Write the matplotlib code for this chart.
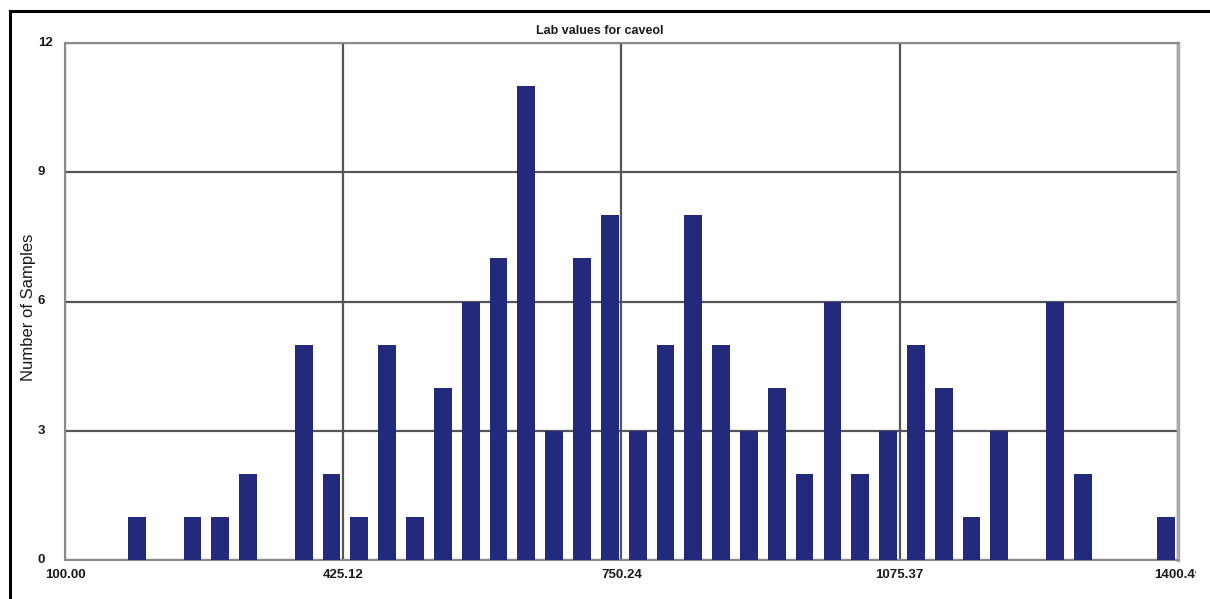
import numpy as np
import matplotlib
matplotlib.use("Agg")
import matplotlib.pyplot as plt
from matplotlib.transforms import Bbox
from matplotlib.lines import Line2D

# histogram of caveol lab values, 40 equal bins between the min and max
X_MIN, X_MAX = 100.00, 1400.49
counts = [0, 0, 1, 0, 1, 1, 2, 0, 5, 2,
          1, 5, 1, 4, 6, 7, 11, 3, 7, 8,
          3, 5, 8, 5, 3, 4, 2, 6, 2, 3,
          5, 4, 1, 3, 0, 6, 2, 0, 0, 1]
x_ticks = [100.00, 425.12, 750.24, 1075.37, 1400.49]
y_ticks = [0, 3, 6, 9, 12]

W, H = 1210, 599
fig = plt.figure(figsize=(W / 100, H / 100), dpi=100)
fig.patch.set_facecolor("white")

# axes box in pixel terms
L, R, T, B = 65, 1178, 43, 560
ax = fig.add_axes([L / W, 1 - B / H, (R - L) / W, (B - T) / H])

nb = len(counts)
edges = np.linspace(X_MIN, X_MAX, nb + 1)
bw = edges[1] - edges[0]
ax.bar(edges[:-1] + 0.26 * bw, counts, width=0.64 * bw, align="edge",
       color="#232a7b", edgecolor="none", zorder=3)

ax.set_xlim(X_MIN, X_MAX)
ax.set_ylim(0, 12)
ax.set_xticks(x_ticks)
ax.set_yticks(y_ticks)
ax.tick_params(length=0, labelleft=False, labelbottom=False)
ax.grid(True, color="#555555", lw=1.6, zorder=1)

for side in ("top", "left", "bottom"):
    ax.spines[side].set_color("#8a8a8a")
    ax.spines[side].set_linewidth(1.5)
ax.spines["right"].set_color("#a8a8a8")
ax.spines["right"].set_linewidth(2.5)

tick_font = dict(fontsize=9.5, fontweight="bold", family="Liberation Sans", color="#1a1a1a")

# y tick labels, left aligned a little left of the axis
for v in y_ticks:
    yp = ax.transData.transform((X_MIN, v))[1]
    fig.text(38 / W, yp / H, f"{v}", ha="left", va="center", **tick_font)

# x tick labels, last one clipped at the window edge
for v in x_ticks:
    xp = ax.transData.transform((v, 0))[0]
    t = fig.text(xp / W, 1 - 575 / H, f"{v:.2f}", ha="center", va="center", **tick_font)
    t.set_clip_box(Bbox.from_extents(0, 0, 1196, H))
    t.set_clip_on(True)

fig.text(600 / W, 1 - 31 / H, "Lab values for caveol", ha="center", va="center",
         fontsize=9, fontweight="bold", family="Liberation Sans", color="#1a1a1a")
fig.text(29 / W, 1 - 307 / H, "Number of Samples", rotation=90, ha="center", va="center",
         fontsize=12, family="Liberation Sans", color="#1a1a1a")

# black window frame along the left and top
fig.add_artist(Line2D([9.5 / W, 9.5 / W], [0, 1 - 11 / H], color="black", lw=2.2,
                      transform=fig.transFigure))
fig.add_artist(Line2D([9.5 / W, 1], [1 - 11 / H, 1 - 11 / H], color="black", lw=2.2,
                      transform=fig.transFigure))

fig.savefig("out.png", dpi=100)
